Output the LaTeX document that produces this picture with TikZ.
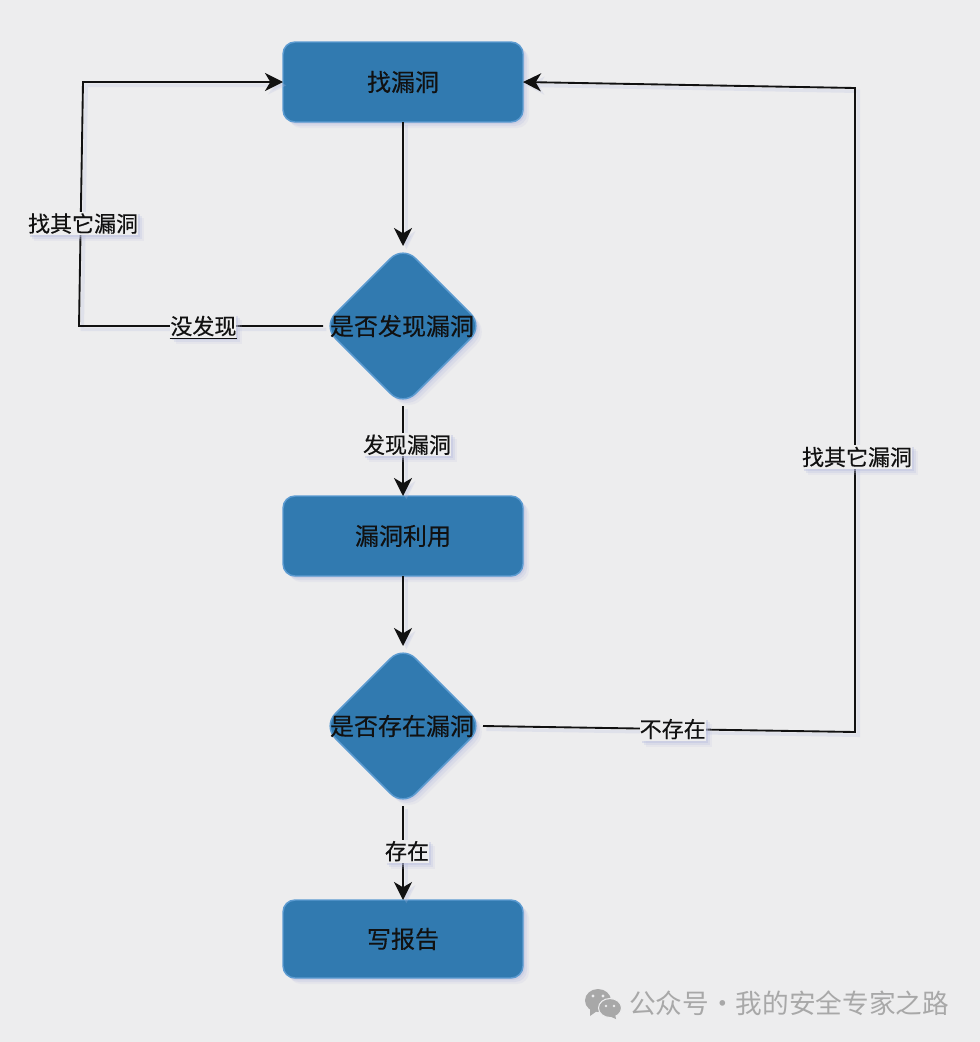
\documentclass[tikz,border=0pt]{standalone}
\usepackage{fontspec}
\setmainfont{Noto Sans CJK SC}
\newfontfamily\heavycn{Noto Sans CJK SC}[FakeBold=0.35]
\usetikzlibrary{positioning,shapes.geometric,shadows,arrows.meta}
\definecolor{colorBG}{HTML}{EDEDEE}
\definecolor{colorBox}{HTML}{317AB0}
\definecolor{colorEdge}{HTML}{5C9BD1}
\definecolor{colorInk}{HTML}{111111}
\definecolor{colorShade}{HTML}{B9BEE0}
\definecolor{colorMark}{HTML}{A8A8A8}
\tikzset{
   every path/.style={>={Stealth[length=13.5pt,width=13.5pt,inset=4pt]}},
   soft/.style={drop shadow={shadow xshift=4.5pt,shadow yshift=-4.5pt,fill=colorShade,opacity=.15},
                drop shadow={shadow xshift=3pt,shadow yshift=-3pt,fill=colorShade,opacity=.25},
                drop shadow={shadow xshift=1.5pt,shadow yshift=-1.5pt,fill=colorShade,opacity=.4}},
   flow/.style={rectangle,rounded corners=9pt,draw=colorEdge,fill=colorBox,line width=1.1pt,soft,
                minimum width=180pt,minimum height=60pt,inner sep=0pt,outer sep=0pt,
                text=colorInk,font=\heavycn\fontsize{18}{20}\selectfont},
   check/.style={diamond,aspect=1,rounded corners=13pt,draw=colorEdge,fill=colorBox,line width=1.1pt,soft,
                minimum width=120pt,minimum height=120pt,inner sep=0pt,outer sep=0pt,
                text=colorInk,font=\heavycn\fontsize{18}{20}\selectfont},
   wire/.style={->,draw=colorInk,line width=1.4pt,
                preaction={draw=colorShade,line width=2.5pt,opacity=.25,transform canvas={xshift=2.5pt,yshift=-2.5pt}}},
   lab/.style={rectangle,fill=colorBG,inner xsep=0pt,inner ysep=1pt,soft,text=colorInk,
                font=\heavycn\fontsize{16.5}{18}\selectfont},
   sig/.style={text=colorMark,inner sep=0pt,font=\fontsize{20}{22}\selectfont},
}
\newcommand{\wide}[1]{\makebox[0pt]{#1}}
\begin{document}
\begin{tikzpicture}[x=0.75pt,y=-0.75pt]
      \useasboundingbox (0,0) rectangle (980,1042);
      \fill[colorBG] (0,0) rectangle (980,1042);
      \node[flow] (find) at (403,82) {找漏洞};
      \node[check] (seen) at (403,326) {\wide{\kern-1.5pt 是否发现漏洞}};
      \node[flow] (use) at (403,536) {漏洞利用};
      \node[check] (real) at (403,726) {\wide{\kern-1.5pt 是否存在漏洞}};
      \node[flow,minimum height=58.5pt] (report) at (403,939) {写报告};
      \coordinate (bendA) at (79,326);
      \coordinate (bendB) at (83,82);
      \coordinate (bendC) at (855,732);
      \coordinate (bendD) at (855,88);
      \draw[wire] (find.south) -- (seen.north);
      \draw[wire] (seen.west) -- node[lab,pos=.49] (none) {没发现} (bendA) -- node[lab,pos=.42,xshift=1.8pt] (othera) {找其它漏洞} (bendB) -- (find.west);
      \draw[wire] (seen.south) -- node[lab,pos=.43,xshift=3pt] (found) {发现漏洞} (use.north);
      \draw[wire] (use.south) -- (real.north);
      \draw[wire] (real.east) -- node[lab,pos=.51] (absent) {不存在} (bendC) -- node[lab,pos=.427,xshift=1.5pt] (otherb) {找其它漏洞} (bendD) -- (find.east);
      \draw[wire] (real.south) -- node[lab,pos=.48,xshift=3pt] (exists) {存在} (report.north);
      \draw[colorInk,line width=.7pt] (none.south west) -- (none.south east);
      \node[sig,anchor=west] (sign) at (629,1003) {公众号·我的安全专家之路};
      \fill[colorMark] (598,1000.5) ellipse (13 and 11.5);
      \fill[colorMark] (590,1009) -- (590,1016) -- (597,1011) -- cycle;
      \fill[colorMark,draw=colorBG,line width=.8pt] (610,1008) ellipse (11.5 and 9.5);
      \fill[colorMark] (615,1014) -- (616,1019) -- (609,1016) -- cycle;
      \fill[colorBG] (593,996) circle (1.6) (603,996) circle (1.6) (606,1006) circle (1.4) (614,1006) circle (1.4);
    \end{tikzpicture}
\end{document}
